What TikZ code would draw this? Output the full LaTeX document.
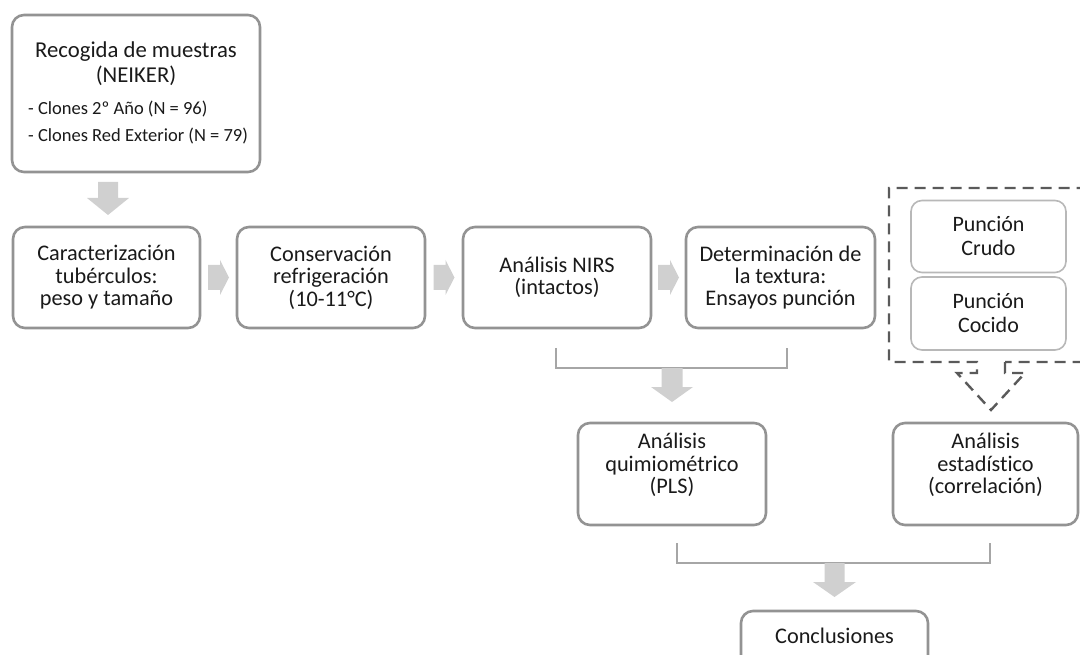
\documentclass[tikz,border=0pt]{standalone}
\usepackage{fontspec}
\setmainfont{Carlito}[Ligatures={NoCommon}]
\usetikzlibrary{calc}
\definecolor{boxgray}{HTML}{939393}
\definecolor{subgray}{HTML}{B8B8B8}
\definecolor{arrowgray}{HTML}{D0D0D0}
\definecolor{brkgray}{HTML}{A6A6A6}
\definecolor{dashgray}{HTML}{5A5A5A}
\definecolor{txt}{HTML}{1A1A1A}
\begin{document}
\begin{tikzpicture}[x=1pt,y=-1pt,
  box/.style={draw=boxgray, line width=2.6pt, rounded corners=12pt, fill=white,
    align=center, text=txt, inner sep=0pt, minimum width=188pt, minimum height=101pt,
    font=\fontsize{22.3}{22.4}\selectfont},
  subbox/.style={draw=subgray, line width=1.6pt, rounded corners=11pt, fill=white,
    align=center, text=txt, inner sep=0pt, minimum width=155pt, minimum height=72pt,
    font=\fontsize{22}{24}\selectfont},
  lbl/.style={text=txt, inner sep=0pt},
  uplbl/.style={text=txt, inner sep=0pt, align=center, yshift=9pt, font=\fontsize{22.3}{22.4}\selectfont},
  blk/.style={fill=arrowgray, draw=none},
  brk/.style={draw=brkgray, line width=1.8pt},
  dsh/.style={draw=dashgray, line width=2.4pt, dash pattern=on 11pt off 7pt}]
\path[use as bounding box, clip] (0,0) rectangle (1080,655);

% boxes
\node[box, minimum width=248pt, minimum height=157pt] (rec) at (136,93.5) {};
\node[lbl, anchor=base, font=\fontsize{22.7}{25}\selectfont] (rt1) at (136,58) {Recogida de muestras};
\node[lbl, anchor=base, font=\fontsize{22.7}{25}\selectfont] (rt2) at (136,83) {(NEIKER)};
\node[lbl, anchor=base west, font=\fontsize{18.5}{20}\selectfont] (rb1) at (28,115) {- Clones 2º Año (N = 96)};
\node[lbl, anchor=base west, font=\fontsize{18.5}{20}\selectfont] (rb2) at (28,142) {- Clones Red Exterior (N = 79)};

\node[box, minimum width=187pt] (car) at (106.5,277.5) {Caracterización\\tubérculos:\\peso y tamaño};
\node[box] (con) at (331,277.5) {Conservación\\refrigeración\\(10-11°C)};
\node[box] (nir) at (557,277.5) {Análisis NIRS\\(intactos)};
\node[box, minimum width=189pt] (det) at (780.5,277.5) {Determinación de\\la textura:\\Ensayos punción};
\node[box, minimum height=102pt] (qui) at (672,474) {};
\node[uplbl] (quit) at (qui.center) {Análisis\\quimiométrico\\(PLS)};
\node[box, minimum width=185pt, minimum height=102pt] (est) at (985.5,474) {};
\node[uplbl] (estt) at (est.center) {Análisis\\estadístico\\(correlación)};
\node[box, minimum width=187pt] (conc) at (834.5,661.5) {};
\node[lbl, font=\fontsize{22.3}{22.4}\selectfont, anchor=base] (conct) at (834.5,643) {Conclusiones};

\node[subbox] (cru) at (988.5,236.5) {Punción\\Crudo};
\node[subbox, minimum height=73pt] (coc) at (988.5,313.5) {Punción\\Cocido};

% dashed group with outlined arrow
\draw[dsh] (1005,362) -- (1005,373) -- (1025,373) -- (991,410) -- (957,373) -- (977,373)
  -- (977,362) -- (889,362) -- (889,188) -- (1092,188) -- (1092,362) -- cycle;

% horizontal block arrows
\foreach \a/\b in {car/con, con/nir, nir/det}{
  \fill[blk] ($(\a.east)!0.5!(\b.west)$) ++(-10.5,-12.5) -- ++(12,0) -- ++(0,-5) -- ++(9,17.5)
    -- ++(-9,17.5) -- ++(0,-5) -- ++(-12,0) -- cycle;
}

% down arrow rec -> car
\coordinate (d1) at (108,182);
\fill[blk] (d1) ++(-10,0) -- ++(20,0) -- ++(0,16) -- ++(11,0) -- ++(-21,17) -- ++(-21,-17) -- ++(11,0) -- cycle;

% bracket nir/det -> qui
\coordinate (b1l) at (556,348);
\coordinate (b1r) at (787,348);
\draw[brk] (b1l) -- ++(0,20) -| (b1r);
\coordinate (d2) at (672,368);
\fill[blk] (d2) ++(-10.5,0) -- ++(21,0) -- ++(0,19) -- ++(10.5,0) -- ++(-21,15) -- ++(-21,-15) -- ++(10.5,0) -- cycle;

% bracket qui/est -> conc
\coordinate (b2l) at (677,543);
\coordinate (b2r) at (990,543);
\draw[brk] (b2l) -- ++(0,20) -| (b2r);
\coordinate (d3) at (834.5,563);
\fill[blk] (d3) ++(-10,0) -- ++(20,0) -- ++(0,19) -- ++(11.5,0) -- ++(-21.5,15) -- ++(-21.5,-15) -- ++(11.5,0) -- cycle;
\end{tikzpicture}
\end{document}
